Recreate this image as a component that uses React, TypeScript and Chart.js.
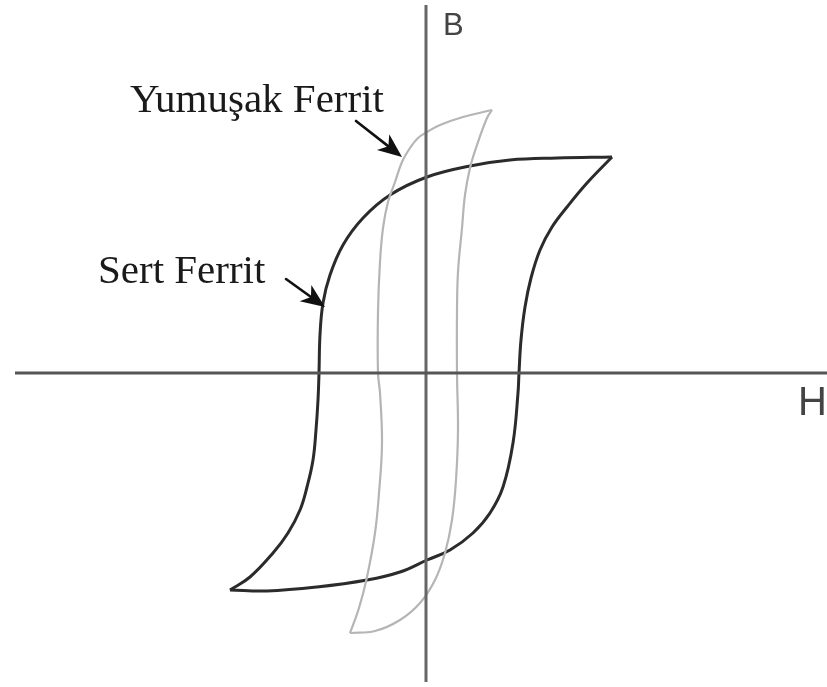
import React, { useEffect, useRef } from "react";
import { Chart, registerables } from "chart.js";

Chart.register(...registerables);

// Axis extents (H horizontal, B vertical), in arbitrary field units
const hAxisH = [-412, 400];
const hAxisB = [0, 0];
const bAxisH = [-1, -1];
const bAxisB = [368, -309];

// Hard ferrite (Sert Ferrit) loop
const hardUpperH = [185, 130, 83, 43, 0, -37, -64, -84, -97, -104, -107, -108, -109, -111, -114, -120, -127, -139, -154, -177, -197];
const hardUpperB = [216, 215, 213, 207, 196, 178, 155, 128, 98, 70, 38, 0, -27, -57, -87, -114, -137, -160, -180, -204, -217];
const hardLowerH = [-197, -160, -110, -60, -27, 0, 23, 46, 63, 76, 86, 91, 92, 94, 98, 104, 113, 125, 140, 160, 185];
const hardLowerB = [-217, -218, -214, -207, -199, -187, -177, -160, -140, -114, -70, -20, 0, 33, 66, 95, 123, 146, 166, 190, 216];

// Soft ferrite (Yumuşak Ferrit) loop
const softUpperH = [65, 36, 13, 0, -9, -17, -25, -32, -39, -44, -47, -49, -49, -47, -45, -48, -52, -60, -68, -77];
const softUpperB = [263, 256, 248, 241, 235, 225, 211, 191, 171, 145, 111, 61, 0, -20, -70, -120, -160, -204, -235, -260];
const softLowerH = [-77, -52, -27, -7, 8, 18, 25, 29, 31, 30, 30, 31, 35, 38, 43, 50, 60, 65];
const softLowerB = [-260, -258, -247, -230, -207, -180, -147, -107, -57, 0, 61, 101, 145, 178, 205, 228, 255, 263];

// Annotations
const labelTexts = ["Yumuşak Ferrit", "Sert Ferrit"];
const labelH = [-297, -329];
const labelB = [261, 90];
const arrowFromH = [-71, -141];
const arrowFromB = [252, 94];
const arrowToH = [-25, -102];
const arrowToB = [216, 66];
const axisNames = ["B", "H"];
const axisNameH = [16, 371];
const axisNameB = [338, -42];

const pts = (xs: number[], ys: number[]) => xs.map((x, i) => ({ x, y: ys[i] }));

const annotPlugin = {
  id: "annot",
  afterDatasetsDraw(chart: any) {
    const ctx = chart.ctx;
    const xs = chart.scales.x;
    const ys = chart.scales.y;
    ctx.save();
    // arrows
    for (let i = 0; i < arrowFromH.length; i++) {
      const x1 = xs.getPixelForValue(arrowFromH[i]);
      const y1 = ys.getPixelForValue(arrowFromB[i]);
      const x2 = xs.getPixelForValue(arrowToH[i]);
      const y2 = ys.getPixelForValue(arrowToB[i]);
      const ang = Math.atan2(y2 - y1, x2 - x1);
      const c = Math.cos(ang);
      const s = Math.sin(ang);
      const headLen = 24;
      const headW = 10;
      ctx.strokeStyle = "#111";
      ctx.lineWidth = 2.6;
      ctx.lineCap = "round";
      ctx.beginPath();
      ctx.moveTo(x1, y1);
      ctx.lineTo(x2 - c * headLen * 0.7, y2 - s * headLen * 0.7);
      ctx.stroke();
      ctx.fillStyle = "#111";
      ctx.beginPath();
      ctx.moveTo(x2, y2);
      ctx.lineTo(x2 - c * headLen + s * headW, y2 - s * headLen - c * headW);
      ctx.lineTo(x2 - c * headLen * 0.72, y2 - s * headLen * 0.72);
      ctx.lineTo(x2 - c * headLen - s * headW, y2 - s * headLen + c * headW);
      ctx.closePath();
      ctx.fill();
    }
    // serif labels
    ctx.fillStyle = "#1a1a1a";
    ctx.font = '41px "Liberation Serif", "Times New Roman", serif';
    ctx.textAlign = "left";
    ctx.textBaseline = "alphabetic";
    for (let i = 0; i < labelTexts.length; i++) {
      ctx.fillText(labelTexts[i], xs.getPixelForValue(labelH[i]), ys.getPixelForValue(labelB[i]));
    }
    // axis names
    ctx.fillStyle = "#444";
    ctx.font = '31px "Liberation Sans", Arial, sans-serif';
    ctx.fillText(axisNames[0], xs.getPixelForValue(axisNameH[0]), ys.getPixelForValue(axisNameB[0]));
    ctx.font = '40px "Liberation Sans", Arial, sans-serif';
    ctx.fillText(axisNames[1], xs.getPixelForValue(axisNameH[1]), ys.getPixelForValue(axisNameB[1]));
    ctx.restore();
  },
};

export default function App() {
  const ref = useRef<HTMLCanvasElement | null>(null);
  useEffect(() => {
    if (!ref.current) return;
    const line = (data: any, color: string, width: number, tension: number) => ({
      data,
      borderColor: color,
      borderWidth: width,
      pointRadius: 0,
      showLine: true,
      tension,
      fill: false,
    });
    const chart = new Chart(ref.current, {
      type: "scatter",
      data: {
        datasets: [
          line(pts(hAxisH, hAxisB), "#555", 3, 0),
          line(pts(bAxisH, bAxisB), "#666", 3, 0),
          line(pts(softUpperH, softUpperB), "#b5b5b5", 2.2, 0.4),
          line(pts(softLowerH, softLowerB), "#b5b5b5", 2.2, 0.4),
          line(pts(hardUpperH, hardUpperB), "#2b2b2b", 3, 0.4),
          line(pts(hardLowerH, hardLowerB), "#2b2b2b", 3, 0.4),
        ],
      },
      options: {
        animation: false,
        responsive: false,
        maintainAspectRatio: false,
        layout: { padding: 0 },
        plugins: { legend: { display: false }, tooltip: { enabled: false } },
        scales: {
          x: { type: "linear", min: -427, max: 400, display: false },
          y: { type: "linear", min: -314, max: 373, display: false },
        },
      },
      plugins: [annotPlugin],
    });
    return () => chart.destroy();
  }, []);
  return (
    <div style={{ position: "fixed", left: 0, top: 0, width: 827, height: 687, background: "#fff" }}>
      <canvas ref={ref} width={827} height={687} style={{ display: "block" }} />
    </div>
  );
}
